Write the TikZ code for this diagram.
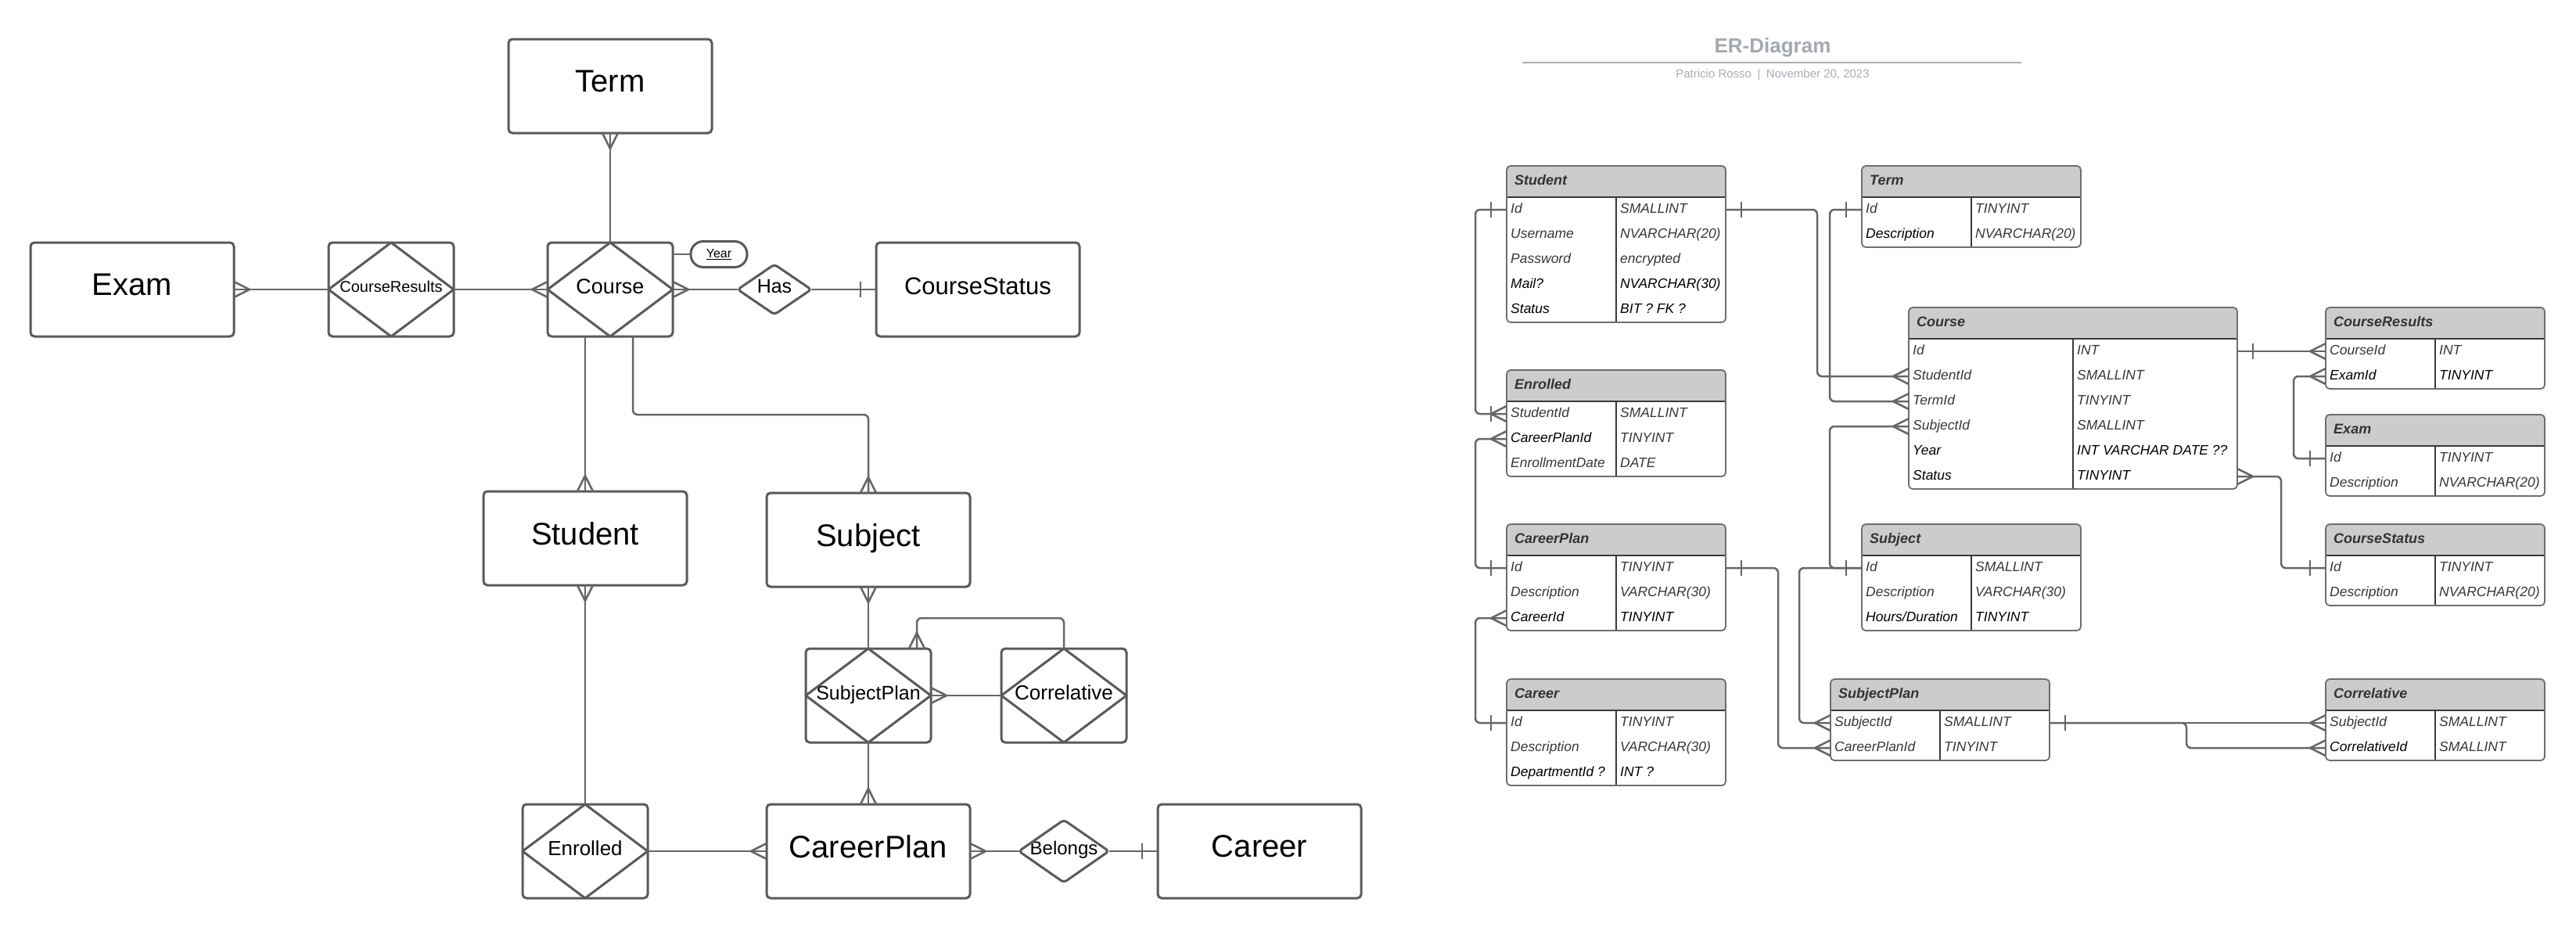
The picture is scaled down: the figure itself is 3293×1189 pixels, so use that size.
\documentclass[tikz,border=0pt]{standalone}
\usepackage{fontspec}
\setmainfont{Liberation Sans}
\usetikzlibrary{calc}
\definecolor{linegray}{HTML}{666666}
\definecolor{boxgray}{HTML}{5A5A5A}
\definecolor{hdrgray}{HTML}{CCCCCC}
\definecolor{hdrtext}{HTML}{333333}
\definecolor{rowgray}{HTML}{383838}
\definecolor{tblborder}{HTML}{6E6E6E}
\definecolor{tblinnercol}{HTML}{3A3A3A}
\definecolor{titlegray}{HTML}{A4A8B0}
\definecolor{subgray}{HTML}{A9ADB5}
\tikzset{
  conn/.style={draw=linegray, line width=2.5pt},
  rconn/.style={conn, rounded corners=6pt},
  entity/.style={draw=boxgray, line width=3pt, rounded corners=5pt,
    minimum width=260pt, minimum height=120pt, outer sep=0pt, inner sep=0pt,
    text depth=12pt, font=\fontsize{40}{48}\selectfont},
  assoc/.style={draw=boxgray, line width=3pt, rounded corners=5pt,
    minimum width=160pt, minimum height=120pt, outer sep=0pt, inner sep=0pt,
    text depth=8pt},
  rel/.style={outer sep=0pt, inner sep=0pt, text depth=8pt},
  attr/.style={draw=boxgray, line width=3pt, rounded corners=16pt,
    minimum width=72pt, minimum height=33pt, outer sep=0pt, inner sep=0pt,
    font=\fontsize{16}{19}\selectfont},
  diam/.style={draw=boxgray, line width=3pt, line join=round},
  tblline/.style={draw=tblborder, line width=1.8pt},
  tblinner/.style={draw=tblinnercol, line width=1.2pt},
  hdrfont/.style={anchor=base west, inner sep=0pt, text=hdrtext,
    font=\bfseries\itshape\fontsize{18}{22}\selectfont},
  rowfont/.style={anchor=base west, inner sep=0pt,
    font=\itshape\fontsize{17.5}{21}\selectfont},
  crow/.pic={\draw[conn] (0,10) -- (20,0) -- (0,-10);},
  onebar/.pic={\draw[conn] (20,10) -- (20,-10);},
}
% #1 name, #2 x, #3 y, #4 width, #5 rows, #6 title, #7 field/type/namecolor/typecolor list
\newcommand\ertable[7]{%
  \begin{scope}[shift={(#2,#3)}]
    \pgfmathsetmacro\tblh{40+32*#5}
    \pgfmathsetmacro\tblmid{#4/2}
    \fill[hdrgray, rounded corners=5pt] (0,0) rectangle (#4,40);
    \fill[hdrgray] (0,28) rectangle (#4,40);
    \draw[tblinner] (0,40) -- (#4,40);
    \draw[tblinner] (\tblmid,40) -- (\tblmid,\tblh);
    \draw[tblline, rounded corners=5pt] (0,0) rectangle (#4,\tblh);
    \node[hdrfont] (#1-title) at (10,24) {#6};
    \foreach \fname/\ftype/\ncol/\tcol [count=\fk] in {#7}{%
      \pgfmathsetmacro\fy{40+32*\fk-16}
      \coordinate (#1-\fk-w) at (0,\fy);
      \coordinate (#1-\fk-e) at (#4,\fy);
      \node[rowfont, text=\ncol] at (5,\fy+4.5) {\fname};
      \node[rowfont, text=\tcol] at (\tblmid+5,\fy+4.5) {\ftype};
    }
  \end{scope}}
\begin{document}
\begin{tikzpicture}[x=1pt,y=-1pt]
\fill[white] (0,0) rectangle (3293,1189);
\useasboundingbox (0,0) rectangle (3293,1189);

% ---------------- left: conceptual ER diagram ----------------
\node[entity] (term) at (780,110) {Term};
\node[entity] (exam) at (169,370) {Exam};
\node[assoc, font=\fontsize{20}{24}\selectfont] (courseresults) at (500,370) {CourseResults};
\node[assoc, font=\fontsize{27}{32}\selectfont] (course) at (780,370) {Course};
\node[attr] (year) at (919,325) {\underline{Year}};
\node[rel, minimum width=94pt, minimum height=64pt, font=\fontsize{25}{30}\selectfont] (has) at (990,370) {Has};
\node[entity, font=\fontsize{31}{36}\selectfont, text depth=8pt] (coursestatus) at (1250,370) {CourseStatus};
\node[entity] (student) at (748,688) {Student};
\node[entity] (subject) at (1110,690) {Subject};
\node[assoc, font=\fontsize{25}{30}\selectfont] (subjectplan) at (1110,889) {SubjectPlan};
\node[assoc, font=\fontsize{26}{31}\selectfont] (correlative) at (1360,889) {Correlative};
\node[assoc, font=\fontsize{26}{31}\selectfont] (enrolled) at (748,1088) {Enrolled};
\node[entity] (careerplan) at (1110,1088) {CareerPlan};
\node[rel, minimum width=115pt, minimum height=80pt, font=\fontsize{24}{29}\selectfont] (belongs) at (1360,1088) {Belongs};
\node[entity] (career) at (1610,1088) {Career};

\foreach \nd in {courseresults,course,subjectplan,correlative,enrolled}
  \draw[diam] (\nd.north) -- (\nd.east) -- (\nd.south) -- (\nd.west) -- cycle;
\foreach \nd in {has,belongs}
  \draw[diam, rounded corners=4pt] (\nd.north) -- (\nd.east) -- (\nd.south) -- (\nd.west) -- cycle;

\draw[conn] (term.south) -- (course.north);
\draw[conn] (exam.east) -- (courseresults.west);
\draw[conn] (courseresults.east) -- (course.west);
\draw[conn] (course.east) -- (has.west);
\draw[conn] (has.east) -- (coursestatus.west);
\draw[conn] (course.east |- year.west) -- (year.west);
\draw[conn] (course.south -| student.north) -- (student.north);
\draw[rconn] ([xshift=29pt]course.south) -- ++(0,100) -| (subject.north);
\draw[conn] (student.south) -- (enrolled.north);
\draw[conn] (subject.south) -- (subjectplan.north);
\draw[conn] (subjectplan.south) -- (careerplan.north);
\draw[conn] (subjectplan.east) -- (correlative.west);
\draw[rconn] (correlative.north) -- ++(0,-39) -| ([xshift=62pt]subjectplan.north);
\draw[conn] (enrolled.east) -- (careerplan.west);
\draw[conn] (careerplan.east) -- (belongs.west);
\draw[conn] (belongs.east) -- (career.west);

\pic[rotate=-90] at (term.south) {crow};
\pic at (exam.east) {crow};
\pic[rotate=180] at (course.west) {crow};
\pic at (course.east) {crow};
\pic[rotate=180] at (coursestatus.west) {onebar};
\pic[rotate=90] at (student.north) {crow};
\pic[rotate=90] at (subject.north) {crow};
\pic[rotate=-90] at (student.south) {crow};
\pic[rotate=-90] at (subject.south) {crow};
\pic[rotate=90] at (careerplan.north) {crow};
\pic at (subjectplan.east) {crow};
\pic[rotate=90] at ([xshift=62pt]subjectplan.north) {crow};
\pic[rotate=180] at (careerplan.west) {crow};
\pic at (careerplan.east) {crow};
\pic[rotate=180] at (career.west) {onebar};

% ---------------- right: relational schema ----------------
\node[text=titlegray, font=\bfseries\fontsize{26}{31}\selectfont] (title) at (2266,61) {ER-Diagram};
\coordinate (rulel) at (1946,80);
\coordinate (ruler) at (2584,80);
\draw[draw=subgray, line width=2.5pt] (rulel) -- (ruler);
\node[text=subgray, font=\fontsize{15}{18}\selectfont] (subtitle) at (2266,96) {Patricio Rosso\enspace|\enspace November 20, 2023};

\ertable{tstudent}{1926}{212}{280}{5}{Student}{Id/SMALLINT/rowgray/rowgray, Username/{NVARCHAR(20)}/rowgray/rowgray, Password/encrypted/rowgray/rowgray, Mail?/{NVARCHAR(30)}/black/black, Status/{BIT ? FK ?}/black/black}
\ertable{tterm}{2380}{212}{280}{2}{Term}{Id/TINYINT/rowgray/rowgray, Description/{NVARCHAR(20)}/black/rowgray}
\ertable{tenrolled}{1926}{473}{280}{3}{Enrolled}{StudentId/SMALLINT/rowgray/rowgray, CareerPlanId/TINYINT/black/rowgray, EnrollmentDate/DATE/rowgray/rowgray}
\ertable{tcourse}{2440}{393}{420}{6}{Course}{Id/INT/rowgray/rowgray, StudentId/SMALLINT/rowgray/rowgray, TermId/TINYINT/rowgray/rowgray, SubjectId/SMALLINT/rowgray/rowgray, Year/{INT VARCHAR DATE ??}/black/black, Status/TINYINT/black/black}
\ertable{tcresults}{2973}{393}{280}{2}{CourseResults}{CourseId/INT/rowgray/rowgray, ExamId/TINYINT/black/black}
\ertable{texam}{2973}{530}{280}{2}{Exam}{Id/TINYINT/rowgray/rowgray, Description/{NVARCHAR(20)}/rowgray/rowgray}
\ertable{tcstatus}{2973}{670}{280}{2}{CourseStatus}{Id/TINYINT/rowgray/rowgray, Description/{NVARCHAR(20)}/rowgray/rowgray}
\ertable{tcareerplan}{1926}{670}{280}{3}{CareerPlan}{Id/TINYINT/rowgray/rowgray, Description/{VARCHAR(30)}/rowgray/rowgray, CareerId/TINYINT/black/black}
\ertable{tsubject}{2380}{670}{280}{3}{Subject}{Id/SMALLINT/rowgray/rowgray, Description/{VARCHAR(30)}/rowgray/rowgray, {Hours/Duration}/TINYINT/black/black}
\ertable{tcareer}{1926}{868}{280}{3}{Career}{Id/TINYINT/rowgray/rowgray, Description/{VARCHAR(30)}/rowgray/rowgray, {DepartmentId ?}/{INT ?}/black/black}
\ertable{tsplan}{2340}{868}{280}{2}{SubjectPlan}{SubjectId/SMALLINT/rowgray/rowgray, CareerPlanId/TINYINT/rowgray/rowgray}
\ertable{tcorrel}{2973}{868}{280}{2}{Correlative}{SubjectId/SMALLINT/rowgray/rowgray, CorrelativeId/SMALLINT/black/rowgray}

\draw[rconn] (tstudent-1-w) -- ++(-40,0) |- (tenrolled-1-w);
\draw[rconn] (tenrolled-2-w) -- ++(-40,0) |- (tcareerplan-1-w);
\draw[rconn] (tcareerplan-3-w) -- ++(-40,0) |- (tcareer-1-w);
\draw[rconn] (tstudent-1-e) -- ++(117,0) |- (tcourse-2-w);
\draw[rconn] (tterm-1-w) -- ++(-41,0) |- (tcourse-3-w);
\draw[rconn] (tcourse-4-w) -- ++(-101,0) |- (tsubject-1-w);
\draw[rconn] (tsubject-1-w) -- ++(-80,0) |- (tsplan-1-w);
\draw[rconn] (tcareerplan-1-e) -- ++(67,0) |- (tsplan-2-w);
\draw[conn] (tsplan-1-e) -- (tcorrel-1-w);
\draw[rconn] (tsplan-1-e) -- ++(175,0) |- (tcorrel-2-w);
\draw[conn] (tcourse-1-e) -- (tcresults-1-w);
\draw[rconn] (tcresults-2-w) -- ++(-41,0) |- (texam-1-w);
\draw[rconn] (tcourse-6-e) -- ++(56,0) |- (tcstatus-1-w);

\pic[rotate=180] at (tstudent-1-w) {onebar};
\pic[rotate=180] at (tenrolled-1-w) {crow};
\pic[rotate=180] at (tenrolled-1-w) {onebar};
\pic[rotate=180] at (tenrolled-2-w) {crow};
\pic[rotate=180] at (tcareerplan-1-w) {onebar};
\pic[rotate=180] at (tcareerplan-3-w) {crow};
\pic[rotate=180] at (tcareer-1-w) {onebar};
\pic at (tstudent-1-e) {onebar};
\pic[rotate=180] at (tcourse-2-w) {crow};
\pic[rotate=180] at (tterm-1-w) {onebar};
\pic[rotate=180] at (tcourse-3-w) {crow};
\pic[rotate=180] at (tcourse-4-w) {crow};
\pic[rotate=180] at (tsubject-1-w) {onebar};
\pic[rotate=180] at (tsplan-1-w) {crow};
\pic at (tcareerplan-1-e) {onebar};
\pic[rotate=180] at (tsplan-2-w) {crow};
\pic at (tsplan-1-e) {onebar};
\pic[rotate=180] at (tcorrel-1-w) {crow};
\pic[rotate=180] at (tcorrel-2-w) {crow};
\pic at (tcourse-1-e) {onebar};
\pic[rotate=180] at (tcresults-1-w) {crow};
\pic[rotate=180] at (tcresults-2-w) {crow};
\pic[rotate=180] at (texam-1-w) {onebar};
\pic at (tcourse-6-e) {crow};
\pic[rotate=180] at (tcstatus-1-w) {onebar};
\end{tikzpicture}
\end{document}
